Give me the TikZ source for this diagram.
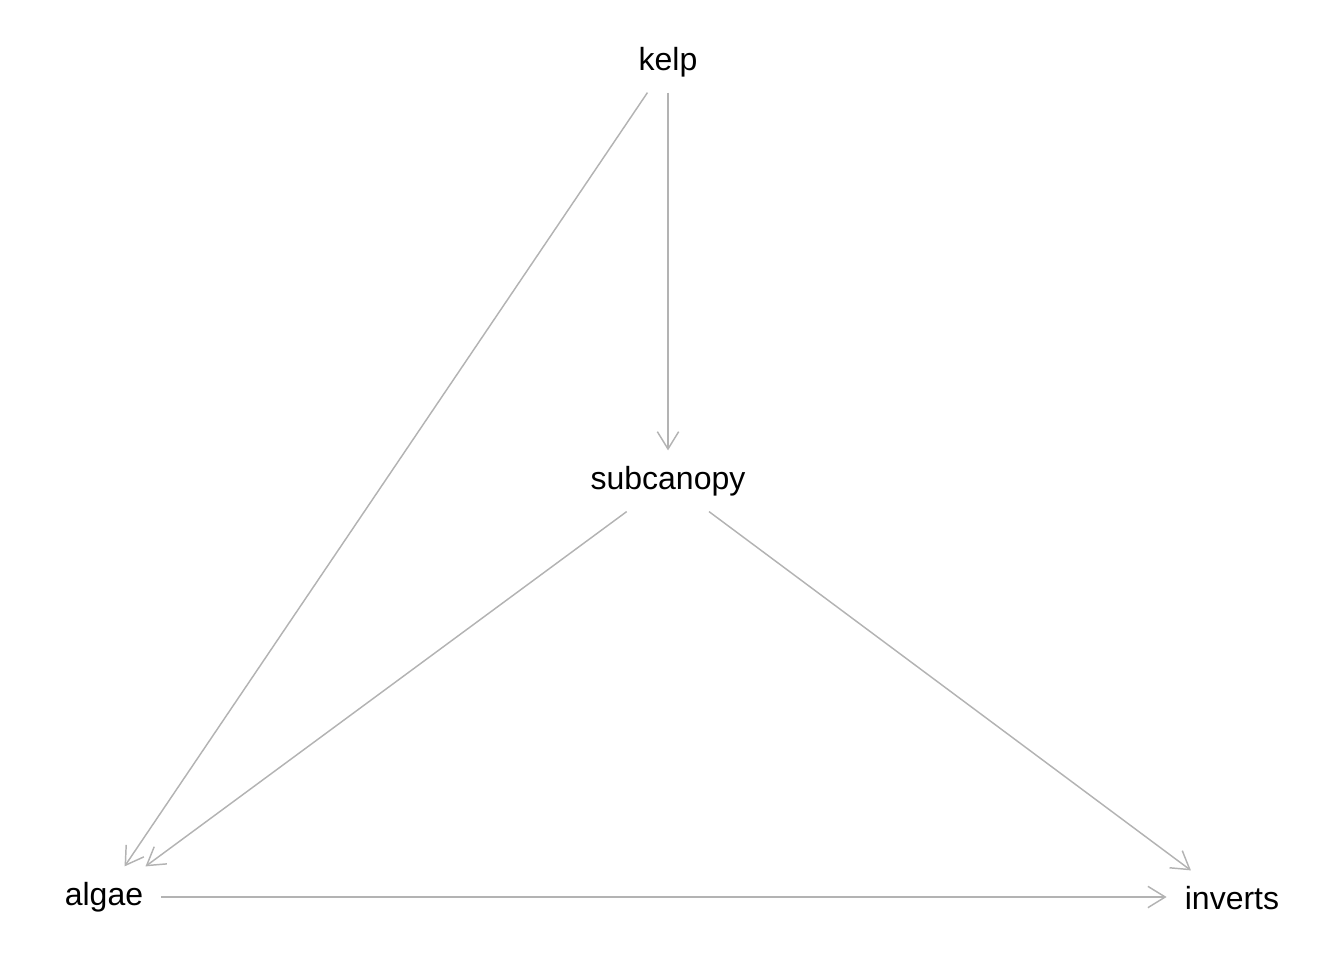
\documentclass[tikz,border=0pt]{standalone}
\usepackage{fontspec}
\setmainfont{Liberation Sans}
\usepackage{xcolor}
\usepackage{tikz}
\usetikzlibrary{arrows.meta}

\definecolor{edgegray}{HTML}{B3B3B3}

\begin{document}
\begin{tikzpicture}[x=0.75pt,y=-0.75pt,->,>={Straight Barb[length=13pt,width=16pt]},
    every edge/.style={draw=edgegray,line width=1.1pt},
    every node/.style={font=\fontsize{24}{28}\selectfont,text height=17.5pt,text depth=5pt,inner xsep=13.5pt,inner ysep=11.5pt}]
            \useasboundingbox (0,0) rectangle (1344,960);

            \node (kelp)      at (668,62)   {kelp};
            \node (subcanopy) at (668,481)  {subcanopy};
            \node (algae)     at (104,897)  {algae};
            \node (inverts)   at (1232,901) {inverts};

            \path (kelp) edge (algae)
            (kelp) edge (subcanopy)
            (subcanopy) edge (algae)
            (subcanopy) edge (inverts)
            (algae) edge (algae -| inverts.west);
        \end{tikzpicture}
\end{document}
